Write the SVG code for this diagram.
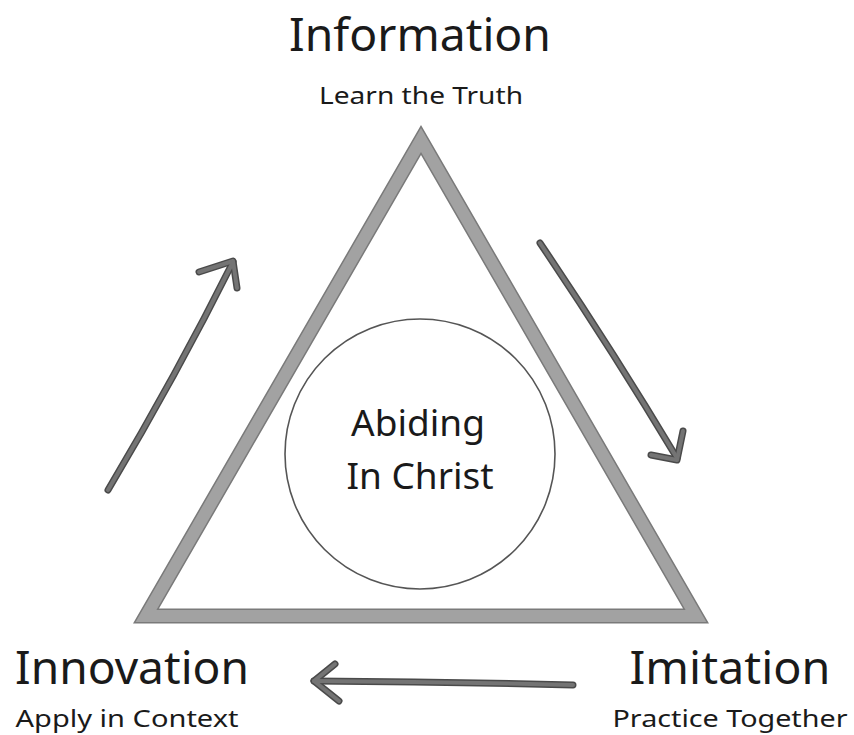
<svg xmlns="http://www.w3.org/2000/svg" width="854" height="735" viewBox="0 0 854 735">
<style>
.t{font-family:"Noto Sans","DejaVu Sans",sans-serif;fill:#1a1a1a;text-anchor:middle}
.big{font-size:46px;font-weight:400}
.sub{font-size:24px;font-weight:400}
.mid{font-size:37px;font-weight:400}
.arr-o{fill:none;stroke:#4a4a4a;stroke-width:7;stroke-linecap:round;stroke-linejoin:round}
.arr-i{fill:none;stroke:#747474;stroke-width:4;stroke-linecap:round;stroke-linejoin:round}
</style>
<rect width="854" height="735" fill="#ffffff"/>
<g id="triangle">
<polygon points="421,140 696,616 146,616" fill="none" stroke="#7a7a7a" stroke-width="15" stroke-linejoin="miter"/>
<polygon points="421,140 696,616 146,616" fill="none" stroke="#a2a2a2" stroke-width="12" stroke-linejoin="miter"/>
</g>
<g id="center">
<circle cx="420" cy="454" r="135" fill="#ffffff" stroke="#555" stroke-width="1.6"/>
<text class="t mid" x="418" y="436">Abiding</text>
<text class="t mid" x="420" y="489">In Christ</text>
</g>
<g id="information">
<text class="t big" x="420" y="51" textLength="262" lengthAdjust="spacingAndGlyphs">Information</text>
<text class="t sub" x="421" y="104" textLength="204" lengthAdjust="spacingAndGlyphs">Learn the Truth</text>
</g>
<g id="imitation">
<text class="t big" x="730" y="684" textLength="201" lengthAdjust="spacingAndGlyphs">Imitation</text>
<text class="t sub" x="730" y="727" textLength="235" lengthAdjust="spacingAndGlyphs">Practice Together</text>
</g>
<g id="innovation">
<text class="t big" x="132" y="684" textLength="234" lengthAdjust="spacingAndGlyphs">Innovation</text>
<text class="t sub" x="127" y="727" textLength="223" lengthAdjust="spacingAndGlyphs">Apply in Context</text>
</g>
<g id="connectors">
<g class="arr-o">
<path d="M108,490 Q177,374 233,262"/>
<path d="M199,272 L233,261 L237,288"/>
<path d="M540,243 Q611,348 677,458"/>
<path d="M651,455 L677,460 L683,431"/>
<path d="M573,685 Q450,682 314,681"/>
<path d="M335,664 L314,681 L339,701"/>
</g>
<g class="arr-i">
<path d="M108,490 Q177,374 233,262"/>
<path d="M199,272 L233,261 L237,288"/>
<path d="M540,243 Q611,348 677,458"/>
<path d="M651,455 L677,460 L683,431"/>
<path d="M573,685 Q450,682 314,681"/>
<path d="M335,664 L314,681 L339,701"/>
</g>
</g>
</svg>
